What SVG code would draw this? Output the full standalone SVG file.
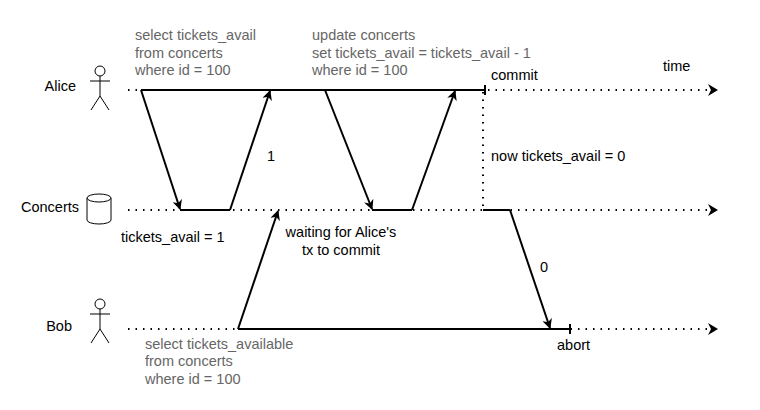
<svg xmlns="http://www.w3.org/2000/svg" width="760" height="410" viewBox="0 0 760 410">
<style>
text{font-family:"Liberation Sans",Arial,sans-serif;font-size:14.5px;fill:#000}
.g{fill:#666}
.dot{stroke:#000;stroke-width:2;stroke-dasharray:1.5 6;fill:none}
.sol{stroke:#000;stroke-width:2;fill:none}
.msg{stroke:#000;stroke-width:2;fill:none;marker-end:url(#ah)}
.shape{stroke:#000;stroke-width:1;fill:#fff}
</style>
<defs>
<marker id="ah" markerWidth="10" markerHeight="10" refX="9" refY="5" orient="auto" markerUnits="userSpaceOnUse"><path d="M0,0 L10,5 L0,10 L3,5 Z" fill="#000"/></marker>
</defs>
<rect width="760" height="410" fill="#fff"/>
<g id="alice"><circle cx="100" cy="71" r="5" class="shape"/><path d="M100,76 V96 M90,81 H110 M100,96 L91,110 M100,96 L109,110" class="shape"/><text x="76" y="91" text-anchor="end">Alice</text></g>
<g id="concerts"><path d="M87,198 V220 A12,4 0 0 0 111,220 V198" class="shape"/><ellipse cx="99" cy="198" rx="12" ry="4" class="shape"/><text x="79" y="212" text-anchor="end">Concerts</text></g>
<g id="bob"><circle cx="100" cy="304" r="5" class="shape"/><path d="M100,309 V329 M90,314 H110 M100,329 L91,343 M100,329 L109,343" class="shape"/><text x="72" y="331" text-anchor="end">Bob</text></g>
<g id="connectors">
<path class="dot" d="M128,90 H712"/><path d="M708,84 L718,90 L708,96 L711,90Z"/>
<path class="dot" d="M128,210 H712"/><path d="M708,204 L718,210 L708,216 L711,210Z"/>
<path class="dot" d="M128,329 H712"/><path d="M708,323 L718,329 L708,335 L711,329Z"/>
<path class="sol" d="M141,90 H485 M485,85 V95"/>
<path class="sol" d="M180,210 H230 M372,210 H412 M483,210 H510"/>
<path class="sol" d="M238,329 H570 M570,324 V334"/>
<path class="dot" d="M483,92 V208"/>
<path class="msg" d="M141,90 L180,209"/>
<path class="msg" d="M230,210 L270,91"/>
<path class="msg" d="M325,90 L372,209"/>
<path class="msg" d="M412,210 L455,91"/>
<path class="msg" d="M238,329 L278,211"/>
<path class="msg" d="M510,210 L550,328"/>
</g>
<g id="labels">
<text x="135" y="40" class="g">select tickets_avail</text>
<text x="135" y="58" class="g">from concerts</text>
<text x="135" y="75" class="g">where id = 100</text>
<text x="312" y="40" class="g">update concerts</text>
<text x="312" y="58" class="g">set tickets_avail = tickets_avail - 1</text>
<text x="312" y="75" class="g">where id = 100</text>
<text x="491" y="80">commit</text>
<text x="663" y="71">time</text>
<text x="267" y="161">1</text>
<text x="491" y="161">now tickets_avail = 0</text>
<text x="121" y="242">tickets_avail = 1</text>
<text x="341" y="237" text-anchor="middle">waiting for Alice's</text>
<text x="341" y="255" text-anchor="middle">tx to commit</text>
<text x="540" y="272">0</text>
<text x="145" y="349" class="g">select tickets_available</text>
<text x="145" y="366" class="g">from concerts</text>
<text x="145" y="384" class="g">where id = 100</text>
<text x="557" y="350">abort</text>
</g>
</svg>
